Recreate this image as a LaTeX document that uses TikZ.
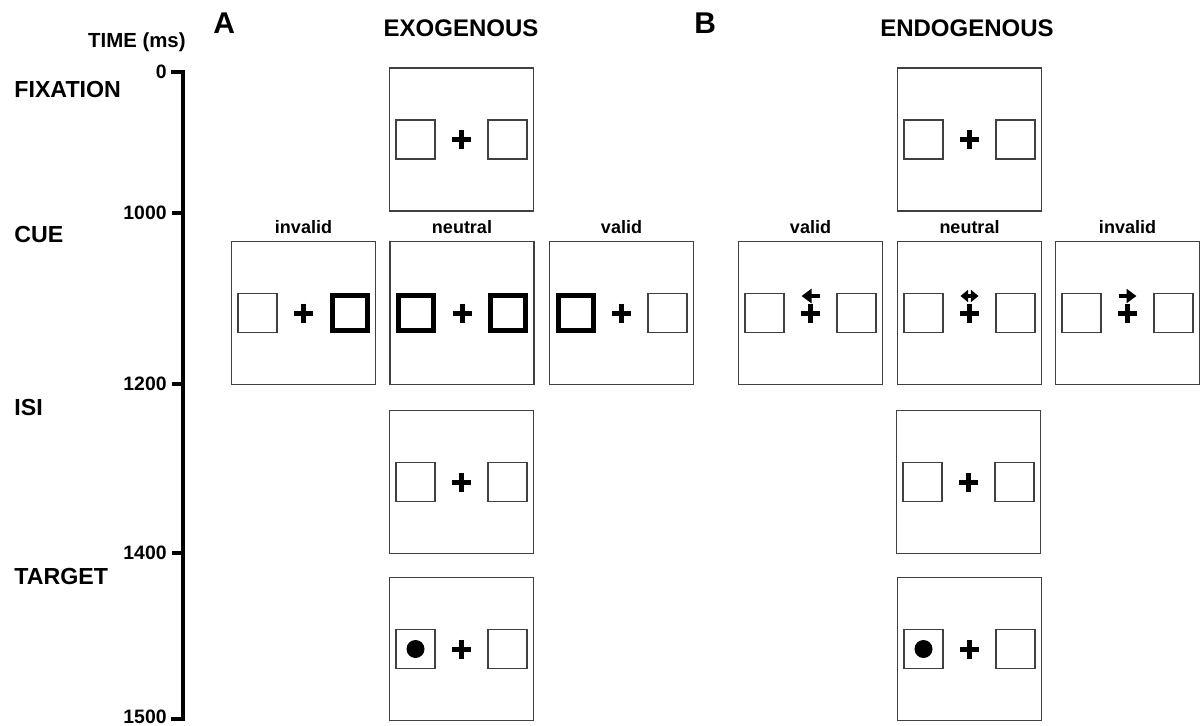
\documentclass[tikz,border=0pt]{standalone}
\usepackage{fontspec}
\setmainfont{Liberation Sans}
\usetikzlibrary{arrows.meta,calc}

\tikzset{
  screen/.style={draw=black!75, line width=0.75pt, minimum width=72pt, minimum height=71.5pt, inner sep=0pt},
  holder/.style={draw=black!75, line width=0.6pt, minimum size=19.5pt, inner sep=0pt},
  cued/.style={draw=black, line width=2.5pt, minimum size=17.5pt, inner sep=0pt},
  stage/.style={font=\bfseries\fontsize{11.6}{13}\selectfont, anchor=base west, inner sep=0pt},
  panel/.style={font=\bfseries\fontsize{15}{17}\selectfont, anchor=base west, inner sep=0pt},
  heading/.style={font=\bfseries\fontsize{12}{14}\selectfont, anchor=base, inner sep=0pt},
  ticklabel/.style={font=\bfseries\fontsize{9.7}{11}\selectfont, anchor=east, inner sep=0pt},
  cuelabel/.style={font=\bfseries\fontsize{9}{11}\selectfont, anchor=base, inner sep=0pt},
  fixcross/.pic={\draw[line width=2.5pt] (-9.5,0) -- (9.5,0) (0,-9.5) -- (0,9.5);},
  leftcue/.pic={\draw[line width=2pt, -{Triangle[length=5pt,width=7pt]}] (9,0) -- (-9,0);},
  rightcue/.pic={\draw[line width=2pt, -{Triangle[length=5pt,width=7pt]}] (-9,0) -- (9,0);},
  bothcue/.pic={\draw[line width=1.6pt, {Triangle[length=3.8pt,width=6pt]}-{Triangle[length=3.8pt,width=6pt]}] (-9,0) -- (9,0);}
}

% one display: name, centre, left placeholder style, right placeholder style
\newcommand{\display}[4]{%
  \node[screen] (#1) at (#2) {};
  \node[#3] (#1-left) at ($(#1.center)+(-46,0)$) {};
  \node[#4] (#1-right) at ($(#1.center)+(46,0)$) {};
  \pic at (#1.center) {fixcross};
}

\begin{document}
\begin{tikzpicture}[x=0.5pt, y=-0.5pt, line join=miter]
  \useasboundingbox (0,0) rectangle (1201,725);

  % time axis
  \draw[line width=2pt] (171,72) -- (183,72) -- (183,719) -- (171,719);
  \foreach \lab/\ypos in {0/72, 1000/213, 1200/384, 1400/553} {
    \draw[line width=2pt] (172,\ypos) -- (183,\ypos);
    \node[ticklabel] (tick\lab) at (167,\ypos) {\lab};
  }
  \node[ticklabel, anchor=south east] (tick1500) at (167,724) {1500};
  \node[font=\bfseries\fontsize{10.2}{12}\selectfont, anchor=base east, inner sep=0pt] (time) at (186,47) {TIME (ms)};

  % stages
  \node[stage] (fixation) at (14,97) {FIXATION};
  \node[stage] (cue) at (14,242) {CUE};
  \node[stage] (isi) at (14,415) {ISI};
  \node[stage] (target) at (14,584) {TARGET};

  % panel headings
  \node[panel] (panelA) at (213,33) {A};
  \node[panel] (panelB) at (694,33) {B};
  \node[heading] (exo) at (461,36) {EXOGENOUS};
  \node[heading] (endo) at (967,36) {ENDOGENOUS};

  % A: exogenous
  \display{exoFix}{461.5,139.5}{holder}{holder}
  \display{exoInvalid}{303.5,313}{holder}{cued}
  \display{exoNeutral}{462,313}{cued}{cued}
  \display{exoValid}{621.5,313}{cued}{holder}
  \display{exoIsi}{461.5,482}{holder}{holder}
  \display{exoTarget}{461.5,649}{holder}{holder}
  \fill (exoTarget-left) circle (9);
  \node[cuelabel] at ($(exoInvalid.north)+(0,-7)$) {invalid};
  \node[cuelabel] at ($(exoNeutral.north)+(0,-7)$) {neutral};
  \node[cuelabel] at ($(exoValid.north)+(0,-7)$) {valid};

  % B: endogenous
  \display{endoFix}{969.5,139.5}{holder}{holder}
  \display{endoValid}{810.5,313}{holder}{holder}
  \display{endoNeutral}{969.5,313}{holder}{holder}
  \display{endoInvalid}{1127.5,313}{holder}{holder}
  \display{endoIsi}{968.5,482}{holder}{holder}
  \display{endoTarget}{969.5,649}{holder}{holder}
  \fill (endoTarget-left) circle (9);
  \pic at ($(endoValid.center)+(0,-17)$) {leftcue};
  \pic at ($(endoNeutral.center)+(0,-17)$) {bothcue};
  \pic at ($(endoInvalid.center)+(0,-17)$) {rightcue};
  \node[cuelabel] at ($(endoValid.north)+(0,-7)$) {valid};
  \node[cuelabel] at ($(endoNeutral.north)+(0,-7)$) {neutral};
  \node[cuelabel] at ($(endoInvalid.north)+(0,-7)$) {invalid};

\end{tikzpicture}
\end{document}
